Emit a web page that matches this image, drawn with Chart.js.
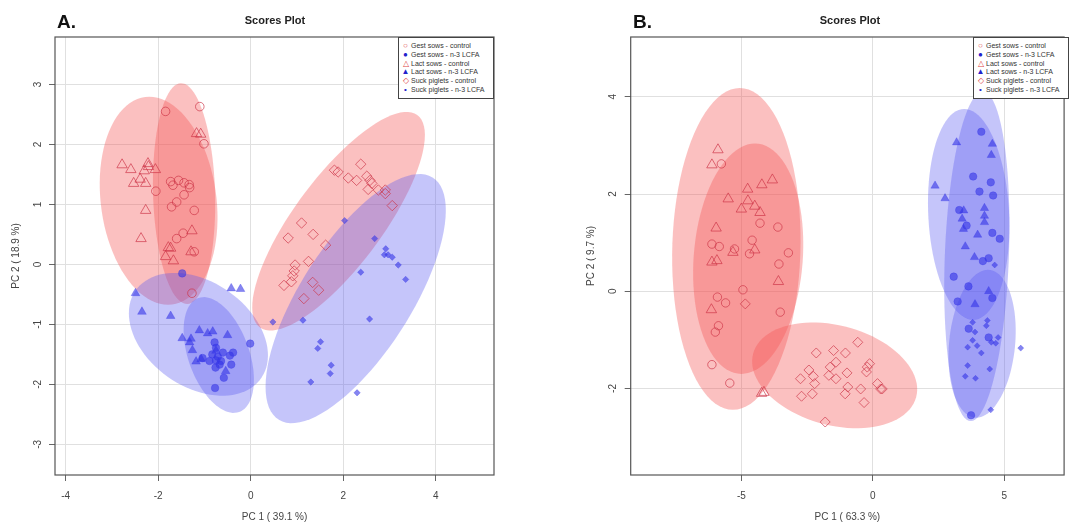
<!DOCTYPE html>
<html>
<head>
<meta charset="utf-8">
<script src="https://cdn.jsdelivr.net/npm/chart.js@4.4.0/dist/chart.umd.min.js"></script>
<style>
  body { margin: 0; background: #fff; font-family: "Liberation Sans", Arial, sans-serif; }
  .panel { position: absolute; top: 0; height: 525px; }
  .letter { position: absolute; top: 12px; font-size: 19px; font-weight: bold; line-height: 19px; color: #111; }
  .title { position: absolute; top: 14px; font-size: 11px; font-weight: bold; line-height: 13px; color: #222; transform: translateX(-50%); white-space: nowrap; }
  .legend { position: absolute; top: 37px; width: 96px; height: 62px; box-sizing: border-box; border: 1px solid #444; background: #fff;
            padding: 4px 0 0 2px; font-size: 7px; line-height: 8.8px; color: #333; white-space: nowrap; }
  .legend .sym { display: inline-block; width: 9px; margin-right: 1px; text-align: center; font-size: 8px; line-height: 8px; }
  .red { color: #d44; }
  .blue { color: #22c; }
</style>
</head>
<body>
<div class="panel" style="left:0;width:535px"><canvas id="chartA" width="535" height="525"></canvas></div>
<div class="panel" style="left:535px;width:536px"><canvas id="chartB" width="536" height="525"></canvas></div>

<div class="letter" style="left:57px">A.</div>
<div class="title" style="left:275px">Scores Plot</div>
<div class="legend" style="left:398px">
  <div><span class="sym red">○</span>Gest sows - control</div>
  <div><span class="sym blue">●</span>Gest sows - n-3 LCFA</div>
  <div><span class="sym red">△</span>Lact sows - control</div>
  <div><span class="sym blue">▲</span>Lact sows - n-3 LCFA</div>
  <div><span class="sym red">◇</span>Suck piglets - control</div>
  <div><span class="sym blue">•</span>Suck piglets - n-3 LCFA</div>
</div>

<div class="letter" style="left:633px">B.</div>
<div class="title" style="left:850px">Scores Plot</div>
<div class="legend" style="left:973px">
  <div><span class="sym red">○</span>Gest sows - control</div>
  <div><span class="sym blue">●</span>Gest sows - n-3 LCFA</div>
  <div><span class="sym red">△</span>Lact sows - control</div>
  <div><span class="sym blue">▲</span>Lact sows - n-3 LCFA</div>
  <div><span class="sym red">◇</span>Suck piglets - control</div>
  <div><span class="sym blue">•</span>Suck piglets - n-3 LCFA</div>
</div>

<script>
// ---- panel A scores (PC1, PC2)
const gestCtrlA = [[-1.84,2.55],[-1.10,2.63],[-1.01,2.01],[-2.05,1.22],[-1.73,1.38],[-1.68,1.32],[-1.56,1.40],[-1.44,1.36],[-1.33,1.33],[-1.32,1.28],[-1.44,1.16],[-1.60,1.04],[-1.71,0.96],[-1.22,0.90],[-1.46,0.52],[-1.60,0.43],[-1.22,0.21],[-1.27,-0.48]];
const gestN3A = [[-1.48,-0.15],[-0.01,-1.32],[-1.04,-1.56],[-0.78,-1.30],[-0.75,-1.39],[-0.83,-1.50],[-0.71,-1.54],[-0.60,-1.47],[-0.45,-1.52],[-0.42,-1.67],[-0.67,-1.67],[-0.75,-1.60],[-0.58,-1.89],[-0.77,-2.06],[-0.89,-1.61],[-0.38,-1.47],[-0.76,-1.72],[-0.64,-1.61]];
const lactCtrlA = [[-2.78,1.66],[-2.59,1.58],[-2.53,1.35],[-2.39,1.42],[-2.30,1.56],[-2.22,1.68],[-2.21,1.63],[-2.06,1.58],[-2.27,1.35],[-2.27,0.90],[-2.37,0.43],[-1.17,2.18],[-1.08,2.17],[-1.84,0.13],[-1.78,0.28],[-1.73,0.27],[-1.67,0.06],[-1.27,0.56],[-1.29,0.21]];
const lactN3A = [[-2.49,-0.48],[-2.35,-0.79],[-1.73,-0.86],[-0.42,-0.40],[-0.22,-0.41],[-1.48,-1.23],[-1.29,-1.24],[-1.32,-1.30],[-1.26,-1.43],[-1.18,-1.62],[-1.11,-1.10],[-0.93,-1.15],[-0.82,-1.12],[-0.50,-1.18],[-1.07,-1.58],[-0.75,-1.44],[-0.54,-1.78]];
const suckCtrlA = [[2.38,1.67],[1.81,1.57],[1.89,1.54],[2.11,1.44],[2.29,1.40],[2.51,1.47],[2.58,1.40],[2.62,1.35],[2.54,1.25],[2.76,1.24],[2.91,1.24],[2.91,1.18],[3.06,0.98],[1.10,0.69],[0.81,0.44],[1.35,0.50],[1.62,0.32],[1.25,0.05],[0.96,-0.01],[0.94,-0.11],[0.91,-0.19],[0.88,-0.29],[0.72,-0.35],[1.34,-0.30],[1.47,-0.43],[1.15,-0.57]];
const suckN3A = [[2.03,0.73],[2.68,0.43],[2.92,0.26],[2.89,0.16],[2.97,0.16],[3.06,0.12],[3.19,-0.01],[3.35,-0.25],[2.38,-0.13],[0.48,-0.96],[1.13,-0.93],[2.57,-0.91],[1.51,-1.29],[1.45,-1.40],[1.74,-1.68],[1.72,-1.82],[1.30,-1.96],[2.30,-2.14]];

// 95% ellipses: centre, two semi-axis vectors (data units)
const ellipseCentresA = [[-1.44,1.18],[-0.69,-1.51],[-1.99,1.06],[-1.13,-1.165],[1.90,0.72],[2.27,-0.57]];
const ellipseAxisUA = [[-0.07,1.84],[0.44,-0.95],[-0.29,1.73],[1.49,-0.22],[1.70,1.77],[1.66,2.02]];
const ellipseAxisVA = [[0.67,0.02],[0.62,0.17],[1.24,0.12],[-0.20,1.00],[0.77,-0.43],[1.02,-0.48]];

const xTicksA = [-4, -2, 0, 2, 4];
const yTicksA = [-3, -2, -1, 0, 1, 2, 3];

// ---- panel B scores
const gestCtrlB = [[-5.76,2.62],[-4.29,1.40],[-3.61,1.32],[-6.12,0.97],[-5.84,0.92],[-5.26,0.87],[-4.59,1.05],[-4.69,0.77],[-3.21,0.79],[-3.57,0.56],[-4.94,0.03],[-5.91,-0.12],[-5.60,-0.24],[-3.52,-0.43],[-5.87,-0.71],[-5.99,-0.84],[-6.12,-1.51],[-5.44,-1.89]];
const gestN3B = [[4.13,3.28],[3.82,2.36],[4.49,2.24],[4.06,2.05],[4.58,1.97],[3.29,1.67],[3.57,1.35],[4.55,1.20],[4.83,1.08],[4.19,0.62],[4.41,0.68],[3.08,0.30],[3.64,0.10],[3.23,-0.21],[4.55,-0.14],[3.65,-0.77],[4.41,-0.95],[3.74,-2.55]];
const lactCtrlB = [[-5.89,2.91],[-6.12,2.60],[-5.50,1.90],[-5.00,1.69],[-4.76,2.10],[-4.75,1.86],[-4.49,1.75],[-4.22,2.19],[-3.82,2.29],[-4.29,1.62],[-5.96,1.30],[-5.32,0.80],[-4.49,0.85],[-6.12,0.60],[-5.93,0.63],[-3.59,0.20],[-6.14,-0.38],[-4.14,-2.08],[-4.23,-2.10]];
const lactN3B = [[2.37,2.17],[2.75,1.91],[3.19,3.06],[4.55,3.03],[4.51,2.80],[3.46,1.66],[3.40,1.49],[3.45,1.28],[4.25,1.71],[4.25,1.55],[4.25,1.42],[3.99,1.16],[3.52,0.92],[3.87,0.70],[4.41,0.00],[3.89,-0.27]];
const suckCtrlB = [[-4.85,-0.26],[-0.57,-1.05],[-2.15,-1.27],[-1.49,-1.22],[-1.04,-1.27],[-1.40,-1.46],[-1.62,-1.56],[-2.43,-1.62],[-2.26,-1.75],[-2.75,-1.80],[-2.21,-1.90],[-1.67,-1.73],[-1.40,-1.80],[-0.98,-1.68],[-0.21,-1.56],[-0.12,-1.49],[-0.24,-1.66],[-0.46,-2.01],[-0.95,-1.97],[-1.05,-2.11],[0.18,-1.90],[0.30,-2.01],[0.36,-2.01],[-2.71,-2.16],[-2.30,-2.11],[-0.33,-2.29],[-1.81,-2.69]];
const suckN3B = [[4.64,0.54],[3.80,-0.64],[3.89,-0.84],[4.36,-0.60],[4.32,-0.71],[3.80,-1.01],[3.97,-1.12],[3.61,-1.15],[4.13,-1.27],[4.68,-1.07],[4.77,-0.95],[5.63,-1.17],[3.61,-1.53],[3.52,-1.75],[3.91,-1.79],[4.45,-1.60],[4.49,-2.44],[4.51,-1.05]];

const ellipseCentresB = [[-5.19,0.87],[3.65,1.58],[-4.74,0.67],[3.96,0.72],[-1.45,-1.73],[4.16,-1.08]];
const ellipseAxisUB = [[0.13,3.31],[-0.17,2.17],[0.26,2.37],[0.23,3.39],[3.10,-0.45],[0.22,1.52]];
const ellipseAxisVB = [[2.44,0],[1.54,0],[2.08,0],[1.22,0],[-0.50,-0.99],[1.26,0]];

const xTicksB = [-5, 0, 5];
const yTicksB = [-2, 0, 2, 4];

const groupNames = ['Gest sows - control', 'Gest sows - n-3 LCFA', 'Lact sows - control',
                    'Lact sows - n-3 LCFA', 'Suck piglets - control', 'Suck piglets - n-3 LCFA'];
const groupShapes = ['circle', 'circle', 'triangle', 'triangle', 'rectRot', 'rectRot'];

const RED_LINE = 'rgba(205,50,70,0.75)';
const BLUE_DOT = 'rgba(52,52,230,0.6)';
const RED_FILL = 'rgba(245,85,85,0.37)';
const BLUE_FILL = 'rgba(90,90,240,0.35)';

Chart.defaults.font.family = '"Liberation Sans", Arial, sans-serif';

function makePanel(id, cfg) {
  const datasets = cfg.groups.map((pts, i) => {
    const control = i % 2 === 0;
    return {
      label: groupNames[i],
      data: pts.map(p => ({ x: p[0], y: p[1] })),
      pointStyle: groupShapes[i],
      pointRadius: cfg.radii[i],
      backgroundColor: control ? 'rgba(0,0,0,0)' : BLUE_DOT,
      borderColor: control ? RED_LINE : BLUE_DOT,
      borderWidth: control ? 0.9 : 0.5
    };
  });

  // confidence ellipses, drawn through the scales
  const ellipses = {
    id: 'ellipses',
    beforeDatasetsDraw(chart) {
      const { ctx, chartArea: a, scales: { x, y } } = chart;
      ctx.save();
      ctx.beginPath();
      ctx.rect(a.left, a.top, a.right - a.left, a.bottom - a.top);
      ctx.clip();
      cfg.centres.forEach((c, i) => {
        const u = cfg.axisU[i], v = cfg.axisV[i];
        ctx.beginPath();
        for (let k = 0; k <= 90; k++) {
          const t = k / 90 * Math.PI * 2;
          const px = x.getPixelForValue(c[0] + u[0] * Math.cos(t) + v[0] * Math.sin(t));
          const py = y.getPixelForValue(c[1] + u[1] * Math.cos(t) + v[1] * Math.sin(t));
          if (k) ctx.lineTo(px, py); else ctx.moveTo(px, py);
        }
        ctx.closePath();
        ctx.fillStyle = i % 2 === 0 ? RED_FILL : BLUE_FILL;
        ctx.fill();
      });
      ctx.restore();
    },
    afterDraw(chart) {
      const { ctx, chartArea: a, scales: { y } } = chart;
      ctx.save();
      ctx.strokeStyle = '#555';
      ctx.lineWidth = 1.2;
      ctx.strokeRect(a.left, a.top, a.right - a.left, a.bottom - a.top);
      // R style y labels, rotated
      ctx.fillStyle = '#444';
      ctx.font = '10px "Liberation Sans", Arial, sans-serif';
      ctx.textAlign = 'center';
      ctx.textBaseline = 'middle';
      y.ticks.forEach(t => {
        ctx.save();
        ctx.translate(a.left - 17, y.getPixelForValue(t.value));
        ctx.rotate(-Math.PI / 2);
        ctx.fillText(String(t.value), 0, 0);
        ctx.restore();
      });
      ctx.restore();
    }
  };

  return new Chart(document.getElementById(id), {
    type: 'scatter',
    data: { datasets },
    plugins: [ellipses],
    options: {
      responsive: false,
      animation: false,
      layout: { padding: { left: cfg.padLeft, right: cfg.padRight, top: 37, bottom: 0 } },
      plugins: { legend: { display: false }, tooltip: { enabled: false } },
      scales: {
        x: {
          type: 'linear', min: cfg.xRange[0], max: cfg.xRange[1],
          afterBuildTicks: s => { s.ticks = cfg.xTicks.map(v => ({ value: v })); },
          afterFit: s => { s.height = 50; },
          ticks: { color: '#444', font: { size: 10 }, padding: 9 },
          grid: { color: '#e0e0e0', tickColor: '#666', tickLength: 6 },
          border: { display: false },
          title: { display: true, text: cfg.xTitle, color: '#444', font: { size: 10 }, padding: { top: 0, bottom: 2 } }
        },
        y: {
          type: 'linear', min: cfg.yRange[0], max: cfg.yRange[1],
          afterBuildTicks: s => { s.ticks = cfg.yTicks.map(v => ({ value: v })); },
          afterFit: s => { s.width = 54; },
          ticks: { display: false },
          grid: { color: '#e0e0e0', tickColor: '#666', tickLength: 6 },
          border: { display: false },
          title: { display: true, text: cfg.yTitle, color: '#444', font: { size: 10 }, padding: { top: 9, bottom: 0 } }
        }
      }
    }
  });
}

makePanel('chartA', {
  groups: [gestCtrlA, gestN3A, lactCtrlA, lactN3A, suckCtrlA, suckN3A],
  radii: [4.3, 3.8, 6.0, 5.0, 5.2, 3.2],
  centres: ellipseCentresA, axisU: ellipseAxisUA, axisV: ellipseAxisVA,
  xRange: [-4.23, 5.26], yRange: [-3.51, 3.79],
  xTicks: xTicksA, yTicks: yTicksA,
  xTitle: 'PC 1 ( 39.1 %)', yTitle: 'PC 2 ( 18.9 %)',
  padLeft: 1, padRight: 41
});

makePanel('chartB', {
  groups: [gestCtrlB, gestN3B, lactCtrlB, lactN3B, suckCtrlB, suckN3B],
  radii: [4.2, 3.8, 6.0, 4.8, 5.0, 3.0],
  centres: ellipseCentresB, axisU: ellipseAxisUB, axisV: ellipseAxisVB,
  xRange: [-9.21, 7.28], yRange: [-3.78, 5.23],
  xTicks: xTicksB, yTicks: yTicksB,
  xTitle: 'PC 1 ( 63.3 %)', yTitle: 'PC 2 ( 9.7 %)',
  padLeft: 41.7, padRight: 2.7
});
</script>
</body>
</html>
